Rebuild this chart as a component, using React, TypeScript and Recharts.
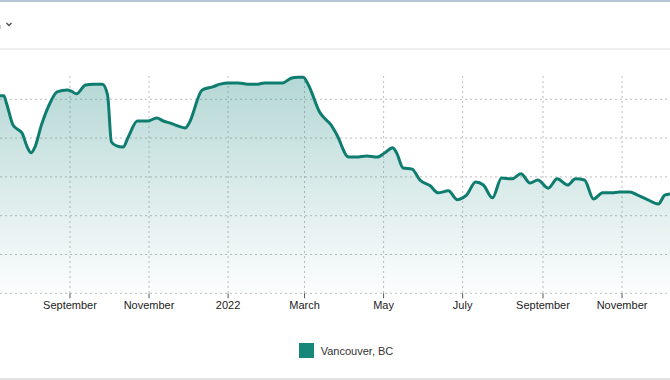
import React from 'react';
import { AreaChart, Area, XAxis, YAxis, CartesianGrid } from 'recharts';

// days since 2021-07-09
const days = [
  0, 3, 5, 10, 13, 17, 21, 24, 27, 32, 39, 44, 52, 55, 59, 66, 72, 79, 83, 86,
  90, 95, 99, 106, 114, 121, 126, 131, 135, 143, 146, 156, 164, 170, 176, 184,
  191, 199, 204, 218, 225, 230, 234, 238, 247, 251, 255, 260, 269, 275, 283,
  291, 297, 303, 306, 311, 318, 324, 332, 338, 346, 353, 357, 360, 367, 373,
  380, 387, 395, 402, 409, 415, 423, 430, 438, 444, 451, 458, 465, 472, 478,
  486, 492, 500, 508, 513, 517,
];

const vancouver = [
  5.09, 5.09, 4.9, 4.34, 4.24, 4.13, 3.77, 3.62, 3.77, 4.34, 4.93, 5.19, 5.24,
  5.21, 5.14, 5.37, 5.39, 5.39, 5.11, 3.9, 3.8, 3.77, 4.03, 4.44, 4.44, 4.52,
  4.44, 4.39, 4.34, 4.26, 4.39, 5.24, 5.32, 5.39, 5.42, 5.42, 5.39, 5.39, 5.42,
  5.42, 5.55, 5.57, 5.57, 5.37, 4.65, 4.49, 4.36, 4.08, 3.51, 3.51, 3.54, 3.51,
  3.62, 3.75, 3.62, 3.23, 3.2, 2.92, 2.77, 2.59, 2.64, 2.41, 2.46, 2.53, 2.87,
  2.79, 2.46, 2.97, 2.95, 3.08, 2.84, 2.92, 2.71, 2.95, 2.79, 2.95, 2.92, 2.43,
  2.59, 2.59, 2.61, 2.61, 2.53, 2.41, 2.3, 2.53, 2.56,
];

// tick positions (days since 2021-07-09) and their labels
const tickDays = [54, 115, 176, 235, 296, 357, 419, 480];
const tickLabels = ['September', 'November', '2022', 'March', 'May', 'July', 'September', 'November'];

const yTicks = [0, 1, 2, 3, 4, 5];

const colors = {
  line: '#0e7d70',
  fill: '#0f8078',
  legend: '#17877a',
  grid: '#bdbdbd',
  text: '#222',
};

const data = days.map((d, i) => ({ day: d, value: vancouver[i] }));

const font = '"Liberation Sans", Arial, sans-serif';

export default function App() {
  return (
    <div style={{ position: 'absolute', left: 0, top: 0, width: 670, height: 380, background: '#fff', overflow: 'hidden', fontFamily: font }}>
      <div style={{ position: 'absolute', left: 0, top: 0, width: 670, height: 2, background: '#b7c7d5' }} />
      <div style={{ position: 'absolute', left: 0, top: 25, width: 1, height: 4, background: '#ccc' }} />
      <svg style={{ position: 'absolute', left: 5, top: 21 }} width={8} height={7}>
        <polyline points="1.5,2 4,4.5 6.5,2" fill="none" stroke="#555" strokeWidth={1.5} />
      </svg>
      <div style={{ position: 'absolute', left: 0, top: 48, width: 670, height: 2, background: '#eeeeee' }} />

      <div style={{ position: 'absolute', left: 0, top: 0 }}>
        <AreaChart width={670} height={330} data={data} margin={{ top: 76, right: 0, bottom: 6.7, left: 0 }}>
          <defs>
            <linearGradient id="vanFill" x1="0" y1="0" x2="0" y2="1">
              <stop offset="0%" stopColor={colors.fill} stopOpacity={0.31} />
              <stop offset="100%" stopColor={colors.fill} stopOpacity={0.01} />
            </linearGradient>
          </defs>
          <CartesianGrid stroke={colors.grid} strokeDasharray="2 3" syncWithTicks />
          <XAxis
            dataKey="day"
            type="number"
            domain={[0, 517]}
            ticks={tickDays}
            tickFormatter={(v: number) => tickLabels[tickDays.indexOf(v)]}
            axisLine={false}
            tickLine={{ stroke: '#555' }}
            tickSize={5}
            tickMargin={3}
            height={30}
            interval={0}
            tick={{ fill: colors.text, fontSize: 11, fontFamily: font }}
          />
          <YAxis hide domain={[0, 5.6]} ticks={yTicks} />
          <Area
            type="monotone"
            dataKey="value"
            stroke={colors.line}
            strokeWidth={3}
            fill="url(#vanFill)"
            fillOpacity={1}
            dot={false}
            activeDot={false}
            isAnimationActive={false}
          />
        </AreaChart>
      </div>

      <div style={{ position: 'absolute', left: 0, top: 343, width: 670, display: 'flex', justifyContent: 'center', alignItems: 'center' }}>
        <span style={{ display: 'inline-block', width: 15, height: 15, background: colors.legend, marginRight: 7, marginLeft: 22 }} />
        <span style={{ fontSize: 11, color: '#333' }}>Vancouver, BC</span>
      </div>

      <div style={{ position: 'absolute', left: 0, top: 378, width: 670, height: 2, background: '#e2e2e2' }} />
    </div>
  );
}
